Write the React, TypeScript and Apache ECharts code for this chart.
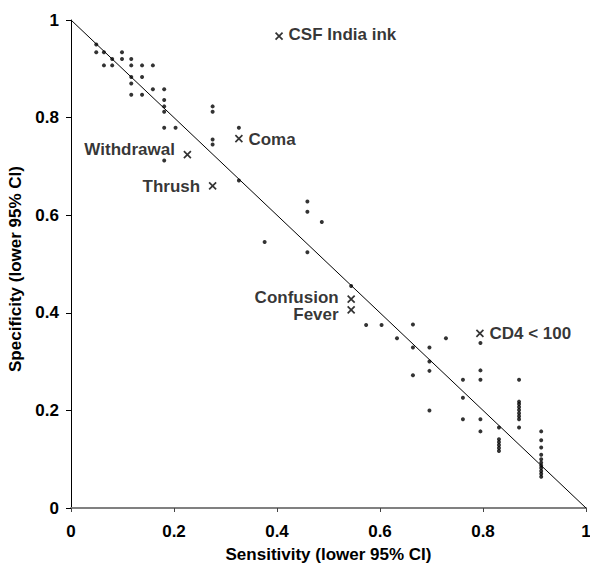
import React, { useEffect, useRef } from "react";
import * as echarts from "echarts";

// Small dots: sensitivity (x) and specificity (y), lower 95% CI
const dotSens = [
  0.049, 0.049,
  0.064, 0.064,
  0.08, 0.08,
  0.099, 0.099,
  0.117, 0.117, 0.117, 0.117, 0.117,
  0.138, 0.138, 0.138,
  0.159, 0.159,
  0.181, 0.181, 0.181, 0.181, 0.181, 0.181,
  0.203,
  0.275, 0.275, 0.275, 0.275,
  0.326, 0.326,
  0.376,
  0.459, 0.459, 0.459,
  0.487,
  0.544,
  0.573,
  0.603,
  0.633,
  0.664, 0.664, 0.664,
  0.696, 0.696, 0.696, 0.696,
  0.728,
  0.761, 0.761, 0.761,
  0.795, 0.795, 0.795, 0.795, 0.795,
  0.831, 0.831, 0.831, 0.831, 0.831, 0.831,
  0.87, 0.87, 0.87, 0.87, 0.87, 0.87, 0.87, 0.87, 0.87,
  0.913, 0.913, 0.913, 0.913, 0.913, 0.913, 0.913, 0.913, 0.913, 0.913, 0.913,
];
const dotSpec = [
  0.95, 0.934,
  0.934, 0.907,
  0.92, 0.907,
  0.934, 0.92,
  0.92, 0.907, 0.883, 0.87, 0.847,
  0.907, 0.883, 0.847,
  0.907, 0.858,
  0.858, 0.836, 0.823, 0.812, 0.779, 0.712,
  0.779,
  0.823, 0.812, 0.755, 0.745,
  0.779, 0.671,
  0.545,
  0.628, 0.607, 0.524,
  0.586,
  0.455,
  0.375,
  0.375,
  0.348,
  0.376, 0.329, 0.272,
  0.329, 0.3, 0.281, 0.2,
  0.348,
  0.263, 0.226, 0.182,
  0.338, 0.282, 0.263, 0.182, 0.157,
  0.165, 0.141, 0.135, 0.129, 0.123, 0.117,
  0.263, 0.218, 0.213, 0.207, 0.201, 0.194, 0.188, 0.182, 0.165,
  0.157, 0.139, 0.124, 0.109, 0.1, 0.093, 0.087, 0.082, 0.076, 0.07, 0.064,
];

// Labelled clinical features (x markers)
const markerNames = ["CSF India ink", "Coma", "Withdrawal", "Thrush", "Confusion", "Fever", "CD4 < 100"];
const markerSens = [0.404, 0.326, 0.226, 0.275, 0.544, 0.544, 0.794];
const markerSpec = [0.967, 0.757, 0.724, 0.66, 0.428, 0.406, 0.358];
const markerSide = ["right", "right", "left", "left", "left", "left", "right"];
const markerOffsetY = [-2, 1, -5, 1, -2, 5, 0];

// Reference diagonal
const diagX = [0, 1];
const diagY = [1, 0];

const FONT = "'Liberation Sans', Arial, Helvetica, sans-serif";

export default function App() {
  const ref = useRef<HTMLDivElement>(null);
  useEffect(() => {
    document.body.style.margin = "0";
    if (!ref.current) return;
    const chart = echarts.init(ref.current, undefined, { renderer: "svg" });
    chart.setOption({
      animation: false,
      backgroundColor: "#ffffff",
      grid: { left: 71, right: 4, top: 20, bottom: 57, outerBoundsMode: "none", containLabel: false },
      xAxis: {
        type: "value",
        min: 0,
        max: 1,
        interval: 0.2,
        name: "Sensitivity (lower 95% CI)",
        nameLocation: "middle",
        nameGap: 38,
        nameTextStyle: { fontFamily: FONT, fontSize: 17, fontWeight: "bold", color: "#000" },
        axisLine: { show: true, onZero: false, lineStyle: { color: "#808080", width: 2 } },
        axisTick: { show: true, length: 4, lineStyle: { color: "#444", width: 1 } },
        axisLabel: { margin: 15, fontFamily: FONT, fontSize: 17, fontWeight: "bold", color: "#000" },
        splitLine: { show: false },
      },
      yAxis: {
        type: "value",
        min: 0,
        max: 1,
        interval: 0.2,
        name: "Specificity (lower 95% CI)",
        nameLocation: "middle",
        nameGap: 38,
        nameTextStyle: {
          fontFamily: FONT,
          fontSize: 17,
          fontWeight: "bold",
          color: "#000",
          padding: [0, 10, 0, 0],
        },
        axisLine: { show: true, onZero: false, lineStyle: { color: "#000", width: 1 } },
        axisTick: { show: true, length: 5, lineStyle: { color: "#000", width: 1 } },
        axisLabel: { margin: 12, fontFamily: FONT, fontSize: 17, fontWeight: "bold", color: "#000" },
        splitLine: { show: false },
      },
      series: [
        {
          type: "line",
          data: diagX.map((x, i) => [x, diagY[i]]),
          symbol: "none",
          lineStyle: { color: "#000", width: 1 },
          z: 1,
          silent: true,
        },
        {
          type: "scatter",
          data: dotSens.map((x, i) => [x, dotSpec[i]]),
          symbol: "circle",
          symbolSize: 4,
          itemStyle: { color: "#000" },
          z: 2,
        },
        {
          type: "scatter",
          symbol: "path://M0,0L10,10M10,0L0,10",
          symbolSize: 7,
          itemStyle: { color: "none", borderColor: "#000", borderWidth: 1.7 },
          z: 3,
          data: markerNames.map((n, i) => ({
            name: n,
            value: [markerSens[i], markerSpec[i]],
            label: {
              show: true,
              position: markerSide[i],
              distance: markerSide[i] === "right" ? 3.5 : 6.5,
              offset: [0, markerOffsetY[i]],
              formatter: n,
              fontFamily: FONT,
              fontSize: 17,
              lineHeight: 17,
              fontWeight: "bold",
              color: "#000",
            },
          })),
        },
      ],
    });
    return () => chart.dispose();
  }, []);
  return <div ref={ref} style={{ width: 590, height: 565 }} />;
}
